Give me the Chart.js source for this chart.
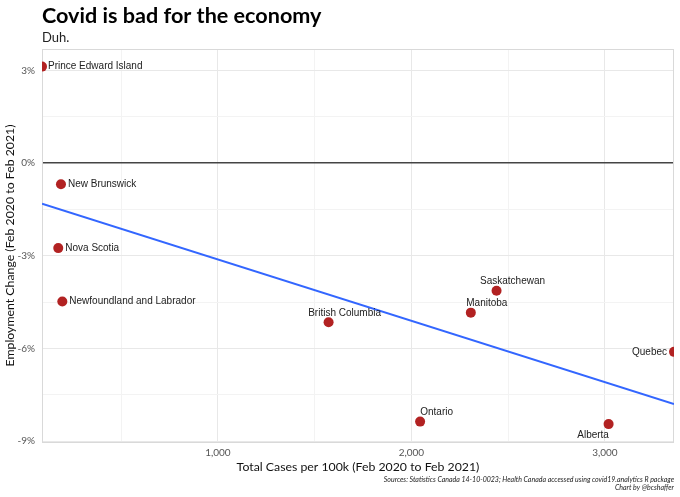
<!DOCTYPE html>
<html>
<head>
<meta charset="utf-8">
<script src="https://cdn.jsdelivr.net/npm/chart.js@4"></script>
<style>
  html, body { margin: 0; padding: 0; background: #fff; }
  #wrap { width: 680px; height: 497px; }
</style>
</head>
<body>
<div id="wrap"><canvas id="chart" width="680" height="497"></canvas></div>
<script>
// data
const provinces = ['Prince Edward Island', 'New Brunswick', 'Nova Scotia', 'Newfoundland and Labrador',
  'British Columbia', 'Saskatchewan', 'Manitoba', 'Quebec', 'Ontario', 'Alberta'];
const casesPer100k = [91, 189, 175, 196, 1572, 2440, 2307, 3357, 2045, 3019];
const employmentChange = [3.13, -0.68, -2.75, -4.48, -5.15, -4.13, -4.84, -6.11, -8.37, -8.45];

// fitted trend line, read at both panel edges
const trendX = [91, 3357];
const trendY = [-1.31, -7.80];

const xTicks = [500, 1000, 1500, 2000, 2500, 3000];
const xTickLabels = ['', '1,000', '', '2,000', '', '3,000'];
const yTicks = [-9, -7.5, -6, -4.5, -3, -1.5, 0, 1.5, 3];
const yTickLabels = ['-9%', '', '-6%', '', '-3%', '', '0%', '', '3%'];

// where each label sits relative to its point (px)
const labelPos = [
  { dx: 6, dy: 0, align: 'left' },
  { dx: 7, dy: 0, align: 'left' },
  { dx: 7, dy: 0, align: 'left' },
  { dx: 7, dy: 0, align: 'left' },
  { dx: 16, dy: -9, align: 'center' },
  { dx: 16, dy: -9.5, align: 'center' },
  { dx: 16, dy: -9, align: 'center' },
  { dx: -7, dy: 0.5, align: 'right' },
  { dx: 16.5, dy: -9.5, align: 'center' },
  { dx: -15.5, dy: 11, align: 'center' }
];

const points = provinces.map((p, i) => ({ x: casesPer100k[i], y: employmentChange[i] }));
const trend = trendX.map((x, i) => ({ x: x, y: trendY[i] }));

const decorations = {
  id: 'decorations',
  beforeDatasetsDraw(chart) {
    const { ctx, chartArea: a } = chart;
    ctx.save();
    ctx.strokeStyle = '#d9d9d9';
    ctx.lineWidth = 1;
    ctx.strokeRect(a.left + 0.5, a.top + 0.5, a.right - a.left - 1, a.bottom - a.top);
    ctx.restore();
  },
  afterDraw(chart) {
    const { ctx, chartArea: a } = chart;
    const xs = chart.scales.x, ys = chart.scales.y;
    ctx.save();
    // point labels
    ctx.fillStyle = '#222';
    ctx.font = '10px "Liberation Sans", Arial, sans-serif';
    ctx.textBaseline = 'middle';
    provinces.forEach((name, i) => {
      const px = xs.getPixelForValue(casesPer100k[i]);
      const py = ys.getPixelForValue(employmentChange[i]);
      ctx.textAlign = labelPos[i].align;
      ctx.fillText(name, px + labelPos[i].dx, py + labelPos[i].dy);
    });
    // title, subtitle, caption
    ctx.textBaseline = 'alphabetic';
    ctx.textAlign = 'left';
    ctx.fillStyle = '#000';
    ctx.font = 'bold 21.6px Lato';
    ctx.fillText('Covid is bad for the economy', 42, 23);
    ctx.fillStyle = '#222';
    ctx.font = '13px Lato';
    ctx.fillText('Duh.', 42, 42);
    ctx.textAlign = 'right';
    ctx.font = 'italic 7px Lato';
    ctx.fillText('Sources: Statistics Canada 14-10-0023; Health Canada accessed using covid19.analytics R package', a.right, 482);
    ctx.fillText('Chart by @bcshaffer', a.right, 490);
    ctx.restore();
  }
};

new Chart(document.getElementById('chart'), {
  type: 'scatter',
  data: {
    datasets: [
      {
        data: points,
        backgroundColor: '#b22222',
        borderWidth: 0,
        pointRadius: 5,
        pointHoverRadius: 5,
        clip: 0
      },
      {
        data: trend,
        showLine: true,
        borderColor: '#3366ff',
        borderWidth: 2,
        pointRadius: 0,
        clip: 0
      }
    ]
  },
  options: {
    responsive: false,
    animation: false,
    layout: { padding: { top: 49, right: 6, left: 0, bottom: 0 } },
    plugins: { legend: { display: false }, tooltip: { enabled: false } },
    scales: {
      x: {
        type: 'linear',
        min: 91,
        max: 3357,
        afterBuildTicks: s => { s.ticks = xTicks.map(v => ({ value: v })); },
        afterFit: s => { s.height = 55; },
        border: { display: false },
        grid: {
          drawTicks: false,
          color: c => xTickLabels[xTicks.indexOf(c.tick.value)] ? '#e8e8e8' : '#f3f3f3'
        },
        ticks: {
          autoSkip: false,
          maxRotation: 0,
          padding: 5,
          color: '#555',
          font: { family: 'Lato', size: 10 },
          callback: v => xTickLabels[xTicks.indexOf(v)]
        },
        title: {
          display: true,
          text: 'Total Cases per 100k (Feb 2020 to Feb 2021)',
          color: '#111',
          font: { family: 'Lato', size: 12.3 },
          padding: { top: 0, bottom: 23 }
        }
      },
      y: {
        min: -9.03,
        max: 3.7,
        afterBuildTicks: s => { s.ticks = yTicks.map(v => ({ value: v })); },
        afterFit: s => { s.width = 42; },
        border: { display: false },
        grid: {
          drawTicks: false,
          color: c => c.tick.value === 0 ? '#444' : (yTickLabels[yTicks.indexOf(c.tick.value)] ? '#e8e8e8' : '#f3f3f3'),
          lineWidth: c => c.tick.value === 0 ? 1.5 : 1
        },
        ticks: {
          autoSkip: false,
          padding: 7,
          color: '#555',
          font: { family: 'Lato', size: 10 },
          callback: v => yTickLabels[yTicks.indexOf(v)]
        },
        title: {
          display: true,
          text: 'Employment Change (Feb 2020 to Feb 2021)',
          color: '#111',
          font: { family: 'Lato', size: 12.3 },
          padding: { top: 2.5, bottom: 0 }
        }
      }
    }
  },
  plugins: [decorations]
});
</script>
</body>
</html>
